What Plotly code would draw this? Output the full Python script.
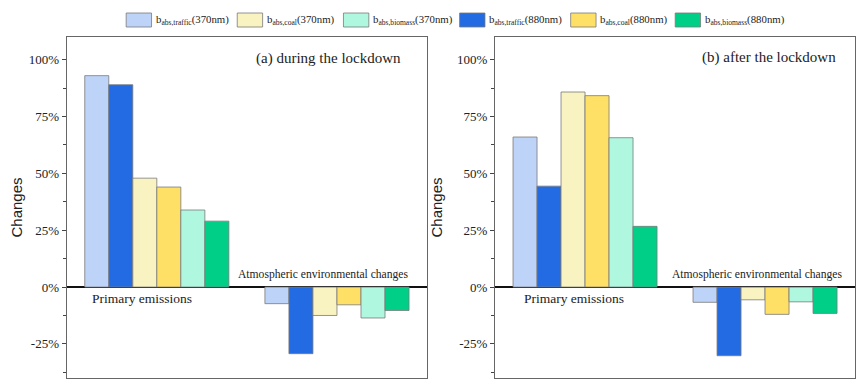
import plotly.graph_objects as go

# ---- data ----
groups = ["Primary emissions", "Atmospheric environmental changes"]
series_names = [
    "b<sub>abs,traffic</sub>(370nm)",
    "b<sub>abs,traffic</sub>(880nm)",
    "b<sub>abs,coal</sub>(370nm)",
    "b<sub>abs,coal</sub>(880nm)",
    "b<sub>abs,biomass</sub>(370nm)",
    "b<sub>abs,biomass</sub>(880nm)",
]
# values (%) for [Primary emissions, Atmospheric environmental changes]
during_lockdown = [
    [93.0, -7.3],
    [89.0, -29.3],
    [47.9, -12.5],
    [44.0, -7.8],
    [33.9, -13.6],
    [29.0, -10.3],
]
after_lockdown = [
    [66.0, -6.7],
    [44.4, -30.2],
    [85.8, -5.6],
    [84.2, -12.0],
    [65.7, -6.5],
    [26.7, -11.6],
]
panel_titles = ["(a) during the lockdown", "(b) after the lockdown"]
y_ticks = [-25, 0, 25, 50, 75, 100]
y_tick_labels = ["-25%", "0%", "25%", "50%", "75%", "100%"]
legend_order = [0, 2, 4, 1, 3, 5]

# ---- styles / layout geometry ----
colors = ["#BED3F8", "#236BE2", "#F8F3C0", "#FFE066", "#AFF7DF", "#00CF88"]
SERIF = "Liberation Serif"
OFF = 8            # page body margin
W, H = 865 - OFF, 390 - OFF


def px(x):
    return (x - OFF) / W


def py(y):
    return 1 - (y - OFF) / H


fig = go.Figure()
xdoms = [[px(63), px(425)], [px(493.3), px(855)]]
ydom = [py(378), py(37)]

for p, data in enumerate([during_lockdown, after_lockdown]):
    xa = "x" if p == 0 else "x2"
    ya = "y" if p == 0 else "y2"
    for i, name in enumerate(series_names):
        fig.add_trace(go.Bar(
            x=groups, y=data[i], name=name,
            marker=dict(color=colors[i], line=dict(color="#7a7a7a", width=0.8)),
            xaxis=xa, yaxis=ya, showlegend=False,
        ))

axis_common_y = dict(
    range=[-40, 110], tickmode="array", tickvals=y_ticks, ticktext=y_tick_labels,
    ticks="outside", ticklen=4, tickwidth=1, tickcolor="#444",
    minor=dict(dtick=12.5, tick0=0, ticks="outside", ticklen=3, tickcolor="#444"),
    showgrid=False, zeroline=True, zerolinecolor="#111", zerolinewidth=1.5,
    showline=True, linecolor="#666", linewidth=1.2, mirror=True,
    tickfont=dict(family=SERIF, size=13, color="#222"),
    title=dict(text="Changes", font=dict(family="Liberation Sans", size=15, color="#222"), standoff=10),
    domain=ydom,
)
axis_common_x = dict(
    showticklabels=False, ticks="", showgrid=False,
    showline=True, linecolor="#666", linewidth=1.2, mirror=True,
)

fig.update_layout(
    width=W, height=H,
    margin=dict(l=0, r=0, t=0, b=0),
    paper_bgcolor="white", plot_bgcolor="white",
    font=dict(family=SERIF, size=13, color="#222"),
    barmode="group", bargap=0.2, bargroupgap=0,
    showlegend=False,
    xaxis=dict(domain=xdoms[0], anchor="y", **axis_common_x),
    xaxis2=dict(domain=xdoms[1], anchor="y2", **axis_common_x),
    yaxis=dict(anchor="x", **axis_common_y),
    yaxis2=dict(anchor="x2", **axis_common_y),
)

# ---- panel annotations ----
ann_pos = [
    dict(title=(0.931, 100.4), prim=(0.067, -5.2), atm=(0.473, 5.4)),
    dict(title=(0.949, 101.2), prim=(0.0785, -4.9), atm=(0.4885, 5.4)),
]
for p in range(2):
    xd = "x domain" if p == 0 else "x2 domain"
    yr = "y" if p == 0 else "y2"
    pos = ann_pos[p]
    fig.add_annotation(x=pos["title"][0], y=pos["title"][1], xref=xd, yref=yr,
                       text=panel_titles[p], showarrow=False, xanchor="right", yanchor="middle",
                       borderpad=0, font=dict(family=SERIF, size=15, color="#222"))
    fig.add_annotation(x=pos["prim"][0], y=pos["prim"][1], xref=xd, yref=yr,
                       text=groups[0], showarrow=False, xanchor="left", yanchor="middle",
                       borderpad=0, font=dict(family=SERIF, size=13.5, color="#222"))
    fig.add_annotation(x=pos["atm"][0], y=pos["atm"][1], xref=xd, yref=yr,
                       text=groups[1], showarrow=False, xanchor="left", yanchor="middle",
                       borderpad=0, font=dict(family=SERIF, size=11.6, color="#222"))

# ---- manual legend ----
legend_x_px = [122.7, 234.3, 341.0, 457.7, 569.3, 674.3]
sw_w, y0_px, y1_px = 25.5, 13, 27
for k, idx in enumerate(legend_order):
    fig.add_shape(type="rect", xref="paper", yref="paper",
                  x0=px(legend_x_px[k]), x1=px(legend_x_px[k] + sw_w),
                  y0=py(y1_px), y1=py(y0_px),
                  fillcolor=colors[idx], line=dict(color="#7a7a7a", width=0.8))
    fig.add_annotation(x=px(legend_x_px[k] + sw_w + 3), y=py(20),
                       xref="paper", yref="paper", text=series_names[idx],
                       showarrow=False, xanchor="left", yanchor="middle", borderpad=0,
                       font=dict(family=SERIF, size=10.8, color="#222"))

fig.write_html("out.html")
